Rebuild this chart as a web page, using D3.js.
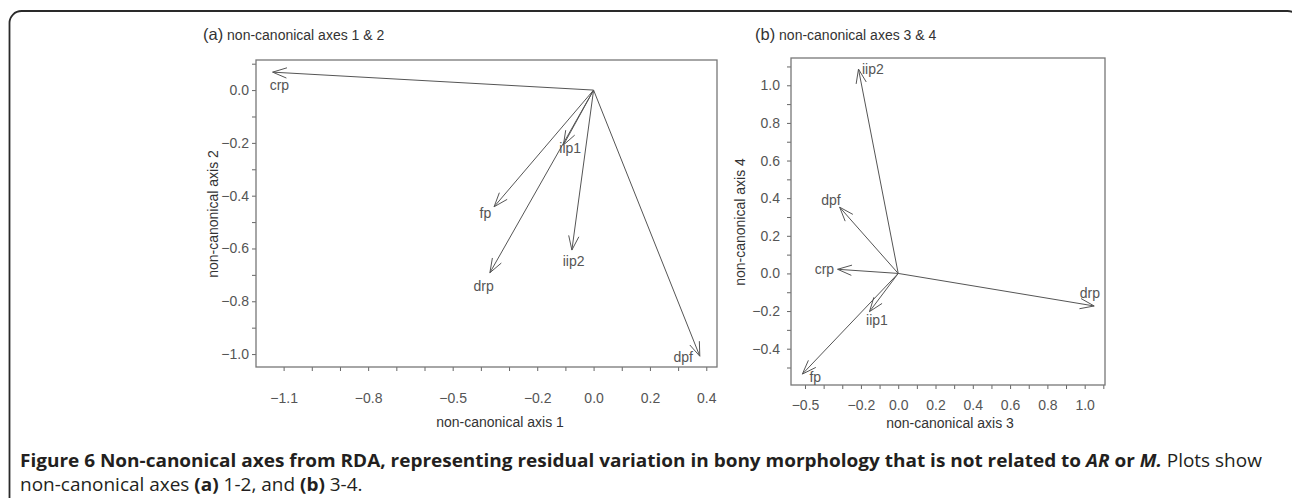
<!DOCTYPE html>
<html><head><meta charset="utf-8">
<script src="https://cdn.jsdelivr.net/npm/d3@7"></script>
<style>body{margin:0;background:#fff}</style>
</head><body><svg id="c" width="1292" height="498"></svg>
<script>
// ---- data ----
const variables = ["crp", "iip1", "fp", "drp", "iip2", "dpf"];
// panel (a): non-canonical axes 1 & 2
const axis1 = [-1.139, -0.107, -0.353, -0.368, -0.077, 0.377];
const axis2 = [0.068, -0.208, -0.442, -0.692, -0.606, -1.008];
const labelA1 = [-1.115, -0.083, -0.384, -0.390, -0.071, 0.318];
const labelA2 = [0.021, -0.221, -0.467, -0.742, -0.647, -1.010];
// panel (b): non-canonical axes 3 & 4
const axis3 = [-0.325, -0.154, -0.514, 1.051, -0.213, -0.314];
const axis4 = [0.022, -0.203, -0.535, -0.173, 1.086, 0.352];
const labelB3 = [-0.396, -0.114, -0.445, 1.028, -0.136, -0.361];
const labelB4 = [0.026, -0.247, -0.552, -0.105, 1.086, 0.391];
// ticks
const xTicksA = [-1.1, -1.0, -0.9, -0.8, -0.7, -0.6, -0.5, -0.4, -0.3, -0.2, -0.1, 0.0, 0.1, 0.2, 0.3, 0.4];
const xLabelsA = [-1.1, -0.8, -0.5, -0.2, 0.0, 0.2, 0.4];
const yTicksA = [0.1, 0.0, -0.1, -0.2, -0.3, -0.4, -0.5, -0.6, -0.7, -0.8, -0.9, -1.0];
const yLabelsA = [0.0, -0.2, -0.4, -0.6, -0.8, -1.0];
const xTicksB = [-0.5, -0.4, -0.3, -0.2, -0.1, 0.0, 0.1, 0.2, 0.3, 0.4, 0.5, 0.6, 0.7, 0.8, 0.9, 1.0, 1.1];
const xLabelsB = [-0.5, -0.2, 0.0, 0.2, 0.4, 0.6, 0.8, 1.0];
const yTicksB = [1.1, 1.0, 0.9, 0.8, 0.7, 0.6, 0.5, 0.4, 0.3, 0.2, 0.1, 0.0, -0.1, -0.2, -0.3, -0.4, -0.5];
const yLabelsB = [1.0, 0.8, 0.6, 0.4, 0.2, 0.0, -0.2, -0.4];

const svg = d3.select("#c");
svg.append("rect").attr("width", 1292).attr("height", 498).attr("fill", "#fff");
// outer rounded frame
svg.append("rect").attr("x", 9.5).attr("y", 11).attr("width", 1290).attr("height", 560)
  .attr("rx", 12).attr("fill", "none").attr("stroke", "#2a2a2a").attr("stroke-width", 1.8);

const FONT = "'Liberation Sans', Arial, sans-serif";
const fmt = d3.format(".1f");
const near = (arr, v) => arr.some(a => Math.abs(a - v) < 1e-9);

function panel(opts) {
  const x = d3.scaleLinear().domain(opts.xDom).range(opts.xRange);
  const y = d3.scaleLinear().domain(opts.yDom).range(opts.yRange);
  const g = svg.append("g");
  // axes
  const ax = g.append("g").attr("transform", `translate(0,${opts.yRange[1]})`)
    .call(d3.axisBottom(x).tickValues(opts.xTicks).tickSize(4).tickPadding(opts.xPad)
      .tickFormat(v => near(opts.xLabels, v) ? fmt(v) : ""));
  const ay = g.append("g").attr("transform", `translate(${opts.xRange[0]},0)`)
    .call(d3.axisLeft(y).tickValues(opts.yTicks).tickSize(4).tickPadding(opts.yPad)
      .tickFormat(v => near(opts.yLabels, v) ? fmt(v) : ""));
  [ax, ay].forEach(a => {
    a.select(".domain").remove();
    a.selectAll("line").attr("stroke", "#666");
    a.selectAll("text").attr("fill", "#555").style("font-family", FONT).style("font-size", "14px");
  });
  // frame
  g.append("rect").attr("x", opts.xRange[0]).attr("y", opts.yRange[0])
    .attr("width", opts.xRange[1] - opts.xRange[0]).attr("height", opts.yRange[1] - opts.yRange[0])
    .attr("fill", "none").attr("stroke", "#777").attr("stroke-width", 1.3);
  // arrows
  const x0 = x(0), y0 = y(0);
  variables.forEach((n, i) => {
    const x1 = x(opts.vx[i]), y1 = y(opts.vy[i]);
    g.append("line").attr("x1", x0).attr("y1", y0).attr("x2", x1).attr("y2", y1)
      .attr("stroke", "#555").attr("stroke-width", 1);
    const ang = Math.atan2(y1 - y0, x1 - x0), L = 15, h = 20 * Math.PI / 180;
    g.append("path")
      .attr("d", `M${x1 - L * Math.cos(ang - h)},${y1 - L * Math.sin(ang - h)}L${x1},${y1}L${x1 - L * Math.cos(ang + h)},${y1 - L * Math.sin(ang + h)}`)
      .attr("fill", "none").attr("stroke", "#555").attr("stroke-width", 1);
    g.append("text").attr("x", x(opts.lx[i])).attr("y", y(opts.ly[i]))
      .attr("text-anchor", "middle").attr("dominant-baseline", "central")
      .attr("fill", "#555").style("font-family", FONT).style("font-size", "14px").text(n);
  });
  // axis titles
  g.append("text").attr("x", opts.xTitlePos[0]).attr("y", opts.xTitlePos[1])
    .attr("text-anchor", "middle").attr("fill", "#333")
    .style("font-family", FONT).style("font-size", "14px").text(opts.xTitle);
  g.append("text").attr("transform", `translate(${opts.yTitlePos[0]},${opts.yTitlePos[1]}) rotate(-90)`)
    .attr("text-anchor", "middle").attr("dominant-baseline", "central").attr("fill", "#333")
    .style("font-family", FONT).style("font-size", "14px").text(opts.yTitle);
  // panel title
  const t = g.append("text").attr("x", opts.titlePos[0]).attr("y", opts.titlePos[1])
    .attr("fill", "#333").style("font-family", FONT);
  t.append("tspan").style("font-size", "16.5px").text(opts.tag);
  t.append("tspan").style("font-size", "14px").text(" " + opts.title);
}

panel({
  xDom: [-1.198, 0.438], xRange: [256, 717], yDom: [0.114, -1.049], yRange: [60, 367],
  xTicks: xTicksA, xLabels: xLabelsA, yTicks: yTicksA, yLabels: yLabelsA, xPad: 22, yPad: 3,
  vx: axis1, vy: axis2, lx: labelA1, ly: labelA2,
  xTitle: "non-canonical axis 1", xTitlePos: [500, 427],
  yTitle: "non-canonical axis 2", yTitlePos: [213, 214],
  tag: "(a)", title: "non-canonical axes 1 & 2", titlePos: [203, 40]
});
panel({
  xDom: [-0.575, 1.109], xRange: [791, 1105], yDom: [1.145, -0.593], yRange: [58, 385],
  xTicks: xTicksB, xLabels: xLabelsB, yTicks: yTicksB, yLabels: yLabelsB, xPad: 11, yPad: 7,
  vx: axis3, vy: axis4, lx: labelB3, ly: labelB4,
  xTitle: "non-canonical axis 3", xTitlePos: [950, 428],
  yTitle: "non-canonical axis 4", yTitlePos: [740, 222],
  tag: "(b)", title: "non-canonical axes 3 & 4", titlePos: [755, 40]
});

// caption
const CF = "'Open Sans', 'Noto Sans', sans-serif";
const l1 = svg.append("text").attr("x", 0).attr("y", 0).attr("fill", "#231f20")
  .style("font-family", CF).style("font-size", "17.5px");
l1.append("tspan").attr("font-weight", "bold").text("Figure 6 ");
l1.append("tspan").attr("font-weight", "bold").text("Non-canonical axes from RDA, representing residual variation in bony morphology that is not related to ");
l1.append("tspan").attr("font-weight", "bold").attr("font-style", "italic").text("AR");
l1.append("tspan").attr("font-weight", "bold").text(" or ");
l1.append("tspan").attr("font-weight", "bold").attr("font-style", "italic").text("M.");
l1.append("tspan").text(" Plots show");
const w1 = l1.node().getComputedTextLength();
const sx = 1242 / w1;
l1.attr("transform", `translate(20,467) scale(${sx},1)`);

const l2 = svg.append("text").attr("x", 0).attr("y", 0).attr("fill", "#231f20")
  .style("font-family", CF).style("font-size", "17.5px");
l2.append("tspan").text("non-canonical axes ");
l2.append("tspan").attr("font-weight", "bold").text("(a)");
l2.append("tspan").text(" 1-2, and ");
l2.append("tspan").attr("font-weight", "bold").text("(b)");
l2.append("tspan").text(" 3-4.");
l2.attr("transform", `translate(20,491) scale(${sx},1)`);
</script>
</body></html>
